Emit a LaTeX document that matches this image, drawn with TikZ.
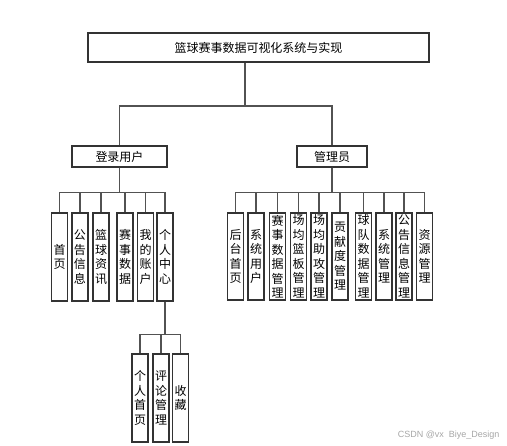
\documentclass[tikz,border=0pt]{standalone}
\usepackage{fontspec}
\setmainfont{Noto Sans CJK SC}
\newfontfamily\markfont{Liberation Sans}
\usetikzlibrary{positioning}

\begin{document}
\begin{tikzpicture}[x=1pt, y=1pt, font=\fontsize{12}{14.5}\selectfont,
		box/.style={draw=black!80, line width=1.3pt, rectangle, inner sep=0pt, align=center},
		leaf/.style={box, minimum width=16pt, minimum height=88pt},
		link/.style={draw=black!68, line width=1.6pt}]
		
		\useasboundingbox (0,0) rectangle (507,-446);
		
		% Nodes
		\node[box, minimum width=341pt, minimum height=29pt] (root) at (258.5,-47.5) {篮球赛事数据可视化系统与实现};
		
		\node[box, minimum width=95pt, minimum height=21pt] (user) at (119.5,-156.5) {登录用户};
		\node[box, minimum width=70pt, minimum height=21pt] (admin) at (332,-156.5) {管理员};
		
		% login user
		\node[leaf] (u1) at (59.5,-257) {首\\页};
		\node[leaf] (u2) at (80,-257) {公\\告\\信\\息};
		\node[leaf] (u3) at (101,-257) {篮\\球\\资\\讯};
		\node[leaf] (u4) at (125,-257) {赛\\事\\数\\据};
		\node[leaf] (u5) at (145.5,-257) {我\\的\\账\\户};
		\node[leaf] (u6) at (165,-257) {个\\人\\中\\心};
		
		% personal center
		\node[leaf] (p1) at (140,-398) {个\\人\\首\\页};
		\node[leaf] (p2) at (161,-398) {评\\论\\管\\理};
		\node[leaf] (p3) at (180.5,-398) {收\\藏};
		
		% admin
		\node[leaf, minimum height=87pt] (a1) at (235.5,-256.5) {后\\台\\首\\页};
		\node[leaf, minimum height=87pt] (a2) at (256,-256.5) {系\\统\\用\\户};
		\node[leaf, minimum height=87pt] (a3) at (277.5,-256.5) {赛\\事\\数\\据\\管\\理};
		\node[leaf, minimum height=87pt] (a4) at (298.5,-256.5) {场\\均\\篮\\板\\管\\理};
		\node[leaf, minimum height=87pt] (a5) at (319,-256.5) {场\\均\\助\\攻\\管\\理};
		\node[leaf, minimum height=87pt] (a6) at (340,-256.5) {贡\\献\\度\\管\\理};
		\node[leaf, minimum height=87pt] (a7) at (363.5,-256.5) {球\\队\\数\\据\\管\\理};
		\node[leaf, minimum height=87pt] (a8) at (384,-256.5) {系\\统\\管\\理};
		\node[leaf, minimum height=87pt] (a9) at (404,-256.5) {公\\告\\信\\息\\管\\理};
		\node[leaf, minimum height=87pt] (a10) at (424.5,-256.5) {资\\源\\管\\理};
		
		\node[text=black!35, font=\markfont\fontsize{9}{10}\selectfont, anchor=east] (mark) at (503,-435) {CSDN @vx\ \ Biye\_Design};
		
		% Arrows
		\coordinate (trunk) at (245,-106);
		\draw[link] (root.south -| trunk) -- (trunk) -| (user.north);
		\draw[link] (trunk) -| (admin.north);
		
		\foreach \c in {u1,u2,u3,u4,u5,u6}
			\draw[link] (user.south) -- ++(0,-25) -| (\c.north);
		\foreach \c in {a1,a2,a3,a4,a5,a6,a7,a8,a9,a10}
			\draw[link] (admin.south) -- ++(0,-25) -| (\c.north);
		\foreach \c in {p1,p2,p3}
			\draw[link] (u6.south) -- ++(0,-33) -| (\c.north);
		
\end{tikzpicture}
\end{document}
